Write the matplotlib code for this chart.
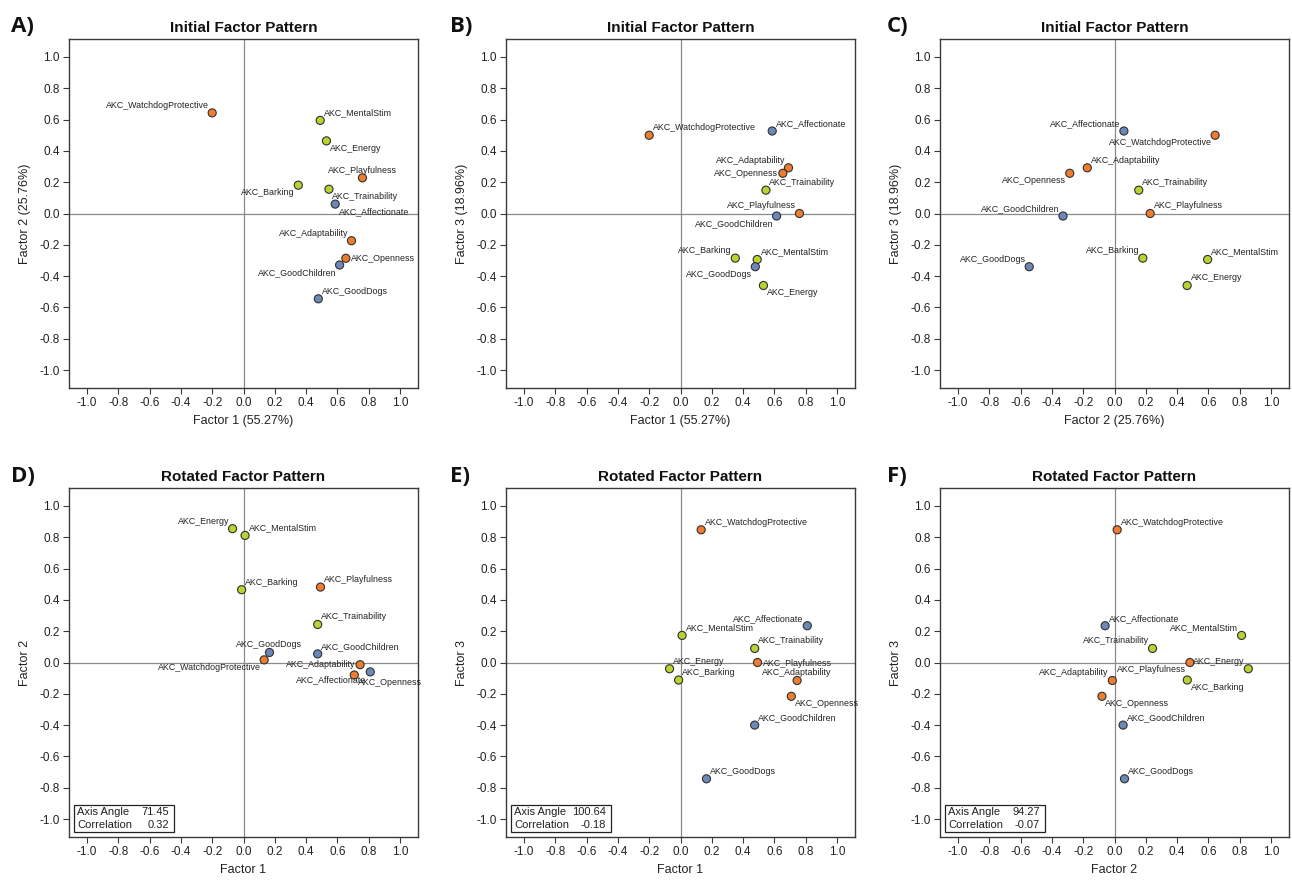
import numpy as np
import matplotlib
matplotlib.use("Agg")
import matplotlib.pyplot as plt
from matplotlib.patches import Rectangle

plt.rcParams['font.family'] = ['Liberation Sans', 'DejaVu Sans']
plt.rcParams['axes.unicode_minus'] = False

# ---------------- data ----------------
variables = ['AKC_WatchdogProtective', 'AKC_MentalStim', 'AKC_Energy', 'AKC_Playfulness',
             'AKC_Barking', 'AKC_Trainability', 'AKC_Affectionate', 'AKC_Adaptability',
             'AKC_Openness', 'AKC_GoodChildren', 'AKC_GoodDogs']
cluster = [1, 2, 2, 1, 2, 2, 3, 1, 1, 3, 3]

init_f1 = [-0.20, 0.49, 0.53, 0.76, 0.35, 0.546, 0.586, 0.69, 0.654, 0.614, 0.478]
init_f2 = [0.643, 0.595, 0.464, 0.228, 0.181, 0.155, 0.060, -0.174, -0.286, -0.329, -0.545]
init_f3 = [0.50, -0.294, -0.46, 0.0, -0.285, 0.149, 0.527, 0.292, 0.257, -0.016, -0.34]

rot_f1 = [0.132, 0.010, -0.070, 0.492, -0.012, 0.474, 0.810, 0.745, 0.708, 0.474, 0.166]
rot_f2 = [0.017, 0.812, 0.855, 0.482, 0.465, 0.243, -0.060, -0.014, -0.080, 0.055, 0.064]
rot_f3 = [0.848, 0.173, -0.040, 0.0, -0.112, 0.090, 0.235, -0.115, -0.216, -0.400, -0.743]

panel_letters = ['A)', 'B)', 'C)', 'D)', 'E)', 'F)']
titles = ['Initial Factor Pattern'] * 3 + ['Rotated Factor Pattern'] * 3
xlabels = ['Factor 1 (55.27%)', 'Factor 1 (55.27%)', 'Factor 2 (25.76%)',
           'Factor 1', 'Factor 1', 'Factor 2']
ylabels = ['Factor 2 (25.76%)', 'Factor 3 (18.96%)', 'Factor 3 (18.96%)',
           'Factor 2', 'Factor 3', 'Factor 3']
axis_angles = [None, None, None, '71.45', '100.64', '94.27']
correlations = [None, None, None, '0.32', '-0.18', '-0.07']
tick_values = [-1.0, -0.8, -0.6, -0.4, -0.2, 0.0, 0.2, 0.4, 0.6, 0.8, 1.0]

panels_x = [init_f1, init_f1, init_f2, rot_f1, rot_f1, rot_f2]
panels_y = [init_f2, init_f3, init_f3, rot_f2, rot_f3, rot_f3]

# label placement codes (style)
label_pos = [
    ['NW', 'NE', 'SE', 'N', 'SW', 'SE', 'SE', 'NW', 'E', 'SW', 'NE'],
    ['NE', 'NE', 'SE', 'NW', 'NW', 'NE', 'NE', 'NW', 'W', 'SW', 'SW'],
    ['SW', 'NE', 'NE', 'NE', 'NW', 'NE', 'NW', 'NE', 'SW', 'NW', 'NW'],
    ['SW', 'NE', 'NW', 'NE', 'NE', 'NE', 'SW', 'W', 'SE', 'NE', 'N'],
    ['NE', 'NE', 'NE', 'E', 'NE', 'NE', 'NW', 'N', 'SE', 'NE', 'NE'],
    ['NE', 'NW', 'NW', 'SW', 'SE', 'NW', 'NE', 'NW', 'SE', 'NE', 'NE'],
]

colors = {1: '#EF7D2F', 2: '#B8D432', 3: '#6B88B9'}

# ---------------- layout ----------------
W, H = 1292, 881
fig = plt.figure(figsize=(W / 100, H / 100), dpi=100)
fig.patch.set_facecolor('white')

lefts = [69, 506, 940]
tops = [39, 488]
size = 349
letter_x = [11, 450, 887]
letter_y = [27, 476]

DX, DY, DE = 2.5, 5.4, 3.6
offsets = {
    'NE': (DX, DY, 'left'), 'NW': (-DX, DY, 'right'), 'SE': (DX, -DY, 'left'),
    'SW': (-DX, -DY, 'right'), 'N': (0, DY, 'center'), 'S': (0, -DY, 'center'),
    'E': (DE, -0.5, 'left'), 'W': (-DE, 0, 'right'),
}

spine_col = '#3a3a3a'
for i in range(6):
    r, c = divmod(i, 3)
    left = lefts[c]
    top = tops[r]
    ax = fig.add_axes([left / W, 1 - (top + size) / H, size / W, size / H])
    ax.set_xlim(-1.115, 1.115)
    ax.set_ylim(-1.115, 1.115)
    ax.axhline(0, color='#8a8a8a', lw=0.9, zorder=1)
    ax.axvline(0, color='#8a8a8a', lw=0.9, zorder=1)

    xs, ys = panels_x[i], panels_y[i]
    cols = [colors[k] for k in cluster]
    ax.scatter(xs, ys, s=34, c=cols, edgecolors='#303030', linewidths=0.8, zorder=3)
    for name, x, y, code in zip(variables, xs, ys, label_pos[i]):
        dx, dy, ha = offsets[code]
        ax.annotate(name, (x, y), xytext=(dx, dy), textcoords='offset points',
                    ha=ha, va='center', fontsize=6.4, color='#222222', zorder=4)

    ax.set_xticks(tick_values)
    ax.set_yticks(tick_values)
    ax.set_xticklabels([f'{v:.1f}' for v in tick_values])
    ax.set_yticklabels([f'{v:.1f}' for v in tick_values])
    ax.tick_params(axis='both', direction='out', length=4.3, width=0.8, color=spine_col,
                   labelsize=8.5, pad=2.5, labelcolor='#222222')
    for s in ax.spines.values():
        s.set_color(spine_col)
        s.set_linewidth(1.0)
    ax.set_title(titles[i], fontsize=11, fontweight='bold', pad=5, color='#111111')
    ax.set_xlabel(xlabels[i], fontsize=9, labelpad=4, color='#222222')
    ax.set_ylabel(ylabels[i], fontsize=9, labelpad=6, color='#222222')

    if axis_angles[i] is not None:
        bx0, by0 = 5 / size, 4.7 / size
        bw, bh = 99.5 / size, 27.3 / size
        ax.add_patch(Rectangle((bx0, by0), bw, bh, transform=ax.transAxes,
                               facecolor='white', edgecolor='#222222', lw=0.9, zorder=5))
        ax.text(bx0 + 3 / size, by0 + 20.2 / size, 'Axis Angle', transform=ax.transAxes,
                ha='left', va='center', fontsize=8, zorder=6, color='#222222')
        ax.text(bx0 + bw - 4.5 / size, by0 + 20.2 / size, axis_angles[i], transform=ax.transAxes,
                ha='right', va='center', fontsize=8, zorder=6, color='#222222')
        ax.text(bx0 + 3 / size, by0 + 6.8 / size, 'Correlation', transform=ax.transAxes,
                ha='left', va='center', fontsize=8, zorder=6, color='#222222')
        ax.text(bx0 + bw - 4.5 / size, by0 + 6.8 / size, correlations[i], transform=ax.transAxes,
                ha='right', va='center', fontsize=8, zorder=6, color='#222222')

    fig.text(letter_x[c] / W, 1 - letter_y[r] / H, panel_letters[i],
             fontsize=16, fontweight='bold', ha='left', va='center',
             family=['Open Sans', 'DejaVu Sans'], color='#111111')

fig.savefig('out.png', dpi=100, facecolor='white')
